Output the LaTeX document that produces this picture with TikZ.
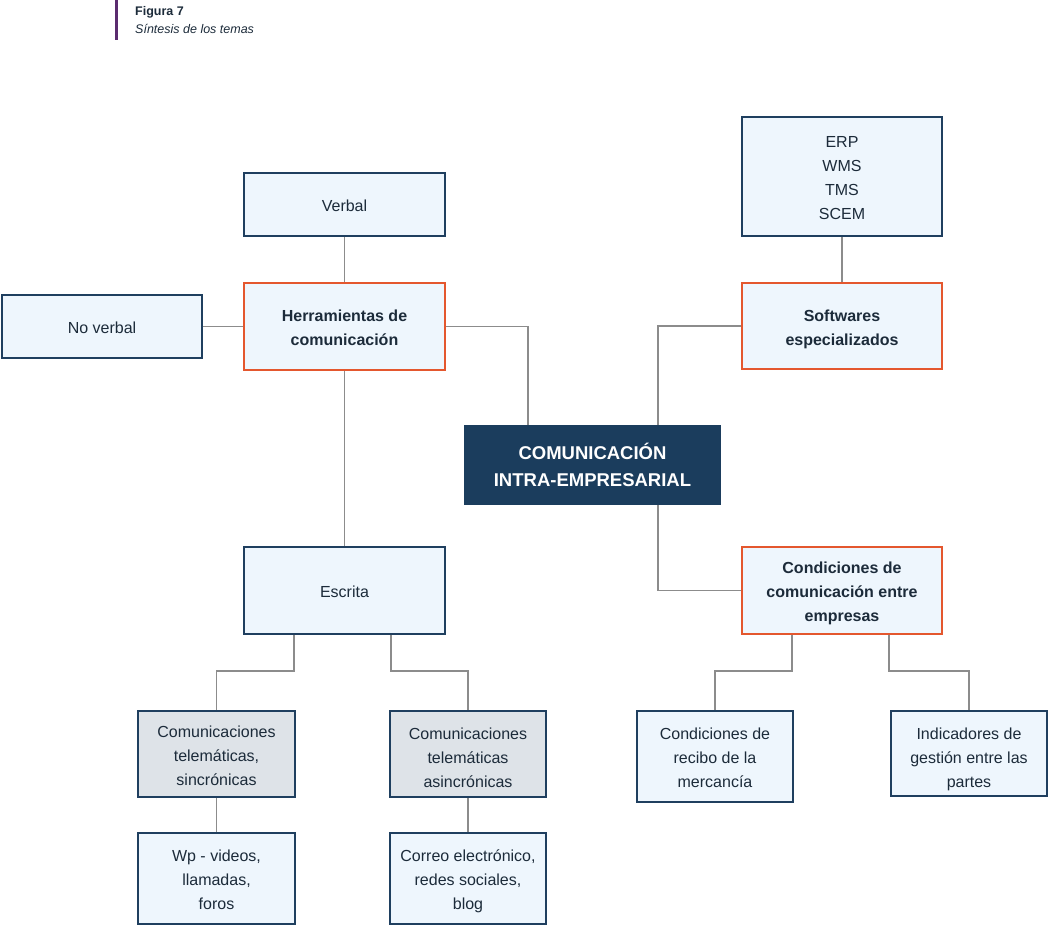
\documentclass[tikz,border=0pt]{standalone}
\usepackage{fontspec}
\setmainfont{Liberation Sans}
\usetikzlibrary{calc}
\definecolor{boxfill}{HTML}{EEF6FD}
\definecolor{boxdraw}{HTML}{1F3F5F}
\definecolor{orng}{HTML}{E4572E}
\definecolor{grayfill}{HTML}{DEE3E8}
\definecolor{cenfill}{HTML}{1B3D5D}
\definecolor{txt}{HTML}{1C2B3A}
\definecolor{conn}{HTML}{8C8C8C}
\definecolor{purp}{HTML}{5B2C6F}
\newcommand\hs[1][19]{\rule{0pt}{#1pt}}
\tikzset{
  bx/.style={draw=boxdraw, fill=boxfill, line width=2pt, align=center, text=txt,
    font=\fontsize{16}{24}\selectfont, inner sep=0pt,
    execute at end node={\rule[-5pt]{0pt}{0pt}}},
  orbx/.style={bx, draw=orng, font=\fontsize{16}{24}\selectfont\bfseries},
  grbx/.style={bx, fill=grayfill},
  cenbx/.style={draw=cenfill, fill=cenfill, line width=1pt, text=white, align=center,
    font=\fontsize{18.5}{27}\selectfont\bfseries, inner sep=0pt},
  ln/.style={draw=conn, line width=1.3pt},
}
\begin{document}
\begin{tikzpicture}[x=1pt,y=-1pt]
\useasboundingbox (0,0) rectangle (1050,926);
% header
\fill[purp] (115,0) rectangle (118,40);
\node[anchor=base west, inner sep=0pt, text=txt, font=\fontsize{12.5}{14}\selectfont\bfseries] (fig) at (135,16) {Figura 7};
\node[anchor=base west, inner sep=0pt, text=txt, font=\fontsize{12.5}{14}\selectfont\itshape] (tit) at (135,34) {Síntesis de los temas};
% boxes
\node[bx, minimum width=201, minimum height=63] (verbal) at (344.5,204.5) {\hs Verbal};
\node[bx, minimum width=200, minimum height=63] (nov) at (102,326.5) {\hs No verbal};
\node[orbx, minimum width=201, minimum height=87] (herr) at (344.5,326.5) {\hs Herramientas de\\comunicación};
\node[bx, minimum width=200, minimum height=119] (erp) at (842,176.5) {\hs ERP\\WMS\\TMS\\SCEM};
\node[orbx, minimum width=200, minimum height=86] (soft) at (842,326) {\hs Softwares\\especializados};
\node[cenbx, minimum width=256, minimum height=79] (cen) at (592.5,465) {COMUNICACIÓN\\INTRA-EMPRESARIAL};
\node[bx, minimum width=201, minimum height=87] (escr) at (344.5,590.5) {\hs Escrita};
\node[orbx, minimum width=200, minimum height=87] (cond) at (842,590.5) {\hs Condiciones de\\comunicación entre\\empresas};
\node[grbx, minimum width=157, minimum height=86] (sinc) at (216.5,754) {\hs Comunicaciones\\telemáticas,\\sincrónicas};
\node[grbx, minimum width=156, minimum height=86] (asinc) at (468,754) {\hs[24]Comunicaciones\\telemáticas\\asincrónicas};
\node[bx, minimum width=157, minimum height=91] (wp) at (216.5,878.5) {\hs Wp - videos,\\llamadas,\\foros};
\node[bx, minimum width=156, minimum height=91] (correo) at (468,878.5) {\hs Correo electrónico,\\redes sociales,\\blog};
\node[bx, minimum width=156, minimum height=91] (recibo) at (715,756.5) {\hs Condiciones de\\recibo de la\\mercancía};
\node[bx, minimum width=156, minimum height=85] (indic) at (969,753.5) {\hs[25]Indicadores de\\gestión entre las\\partes};
% connectors
\draw[ln] (verbal.south) -- (herr.north);
\draw[ln] (nov.east) -- (herr.west);
\draw[ln] (herr.east) -| ([xshift=-64.5pt]cen.north);
\draw[ln] (soft.west) -| ([xshift=65.5pt]cen.north);
\draw[ln] ([xshift=65.5pt]cen.south) |- (cond.west);
\draw[ln] (herr.south) -- (escr.north);
\draw[ln] (erp.south) -- (soft.north);
\draw[ln] ([xshift=-50.5pt]escr.south) -- ++(0,36) -| (sinc.north);
\draw[ln] ([xshift=46.5pt]escr.south) -- ++(0,36) -| (asinc.north);
\draw[ln] ([xshift=-50pt]cond.south) -- ++(0,36) -| (recibo.north);
\draw[ln] ([xshift=47pt]cond.south) -- ++(0,36) -| (indic.north);
\draw[ln] (sinc.south) -- (wp.north);
\draw[ln] (asinc.south) -- (correo.north);
\end{tikzpicture}
\end{document}
